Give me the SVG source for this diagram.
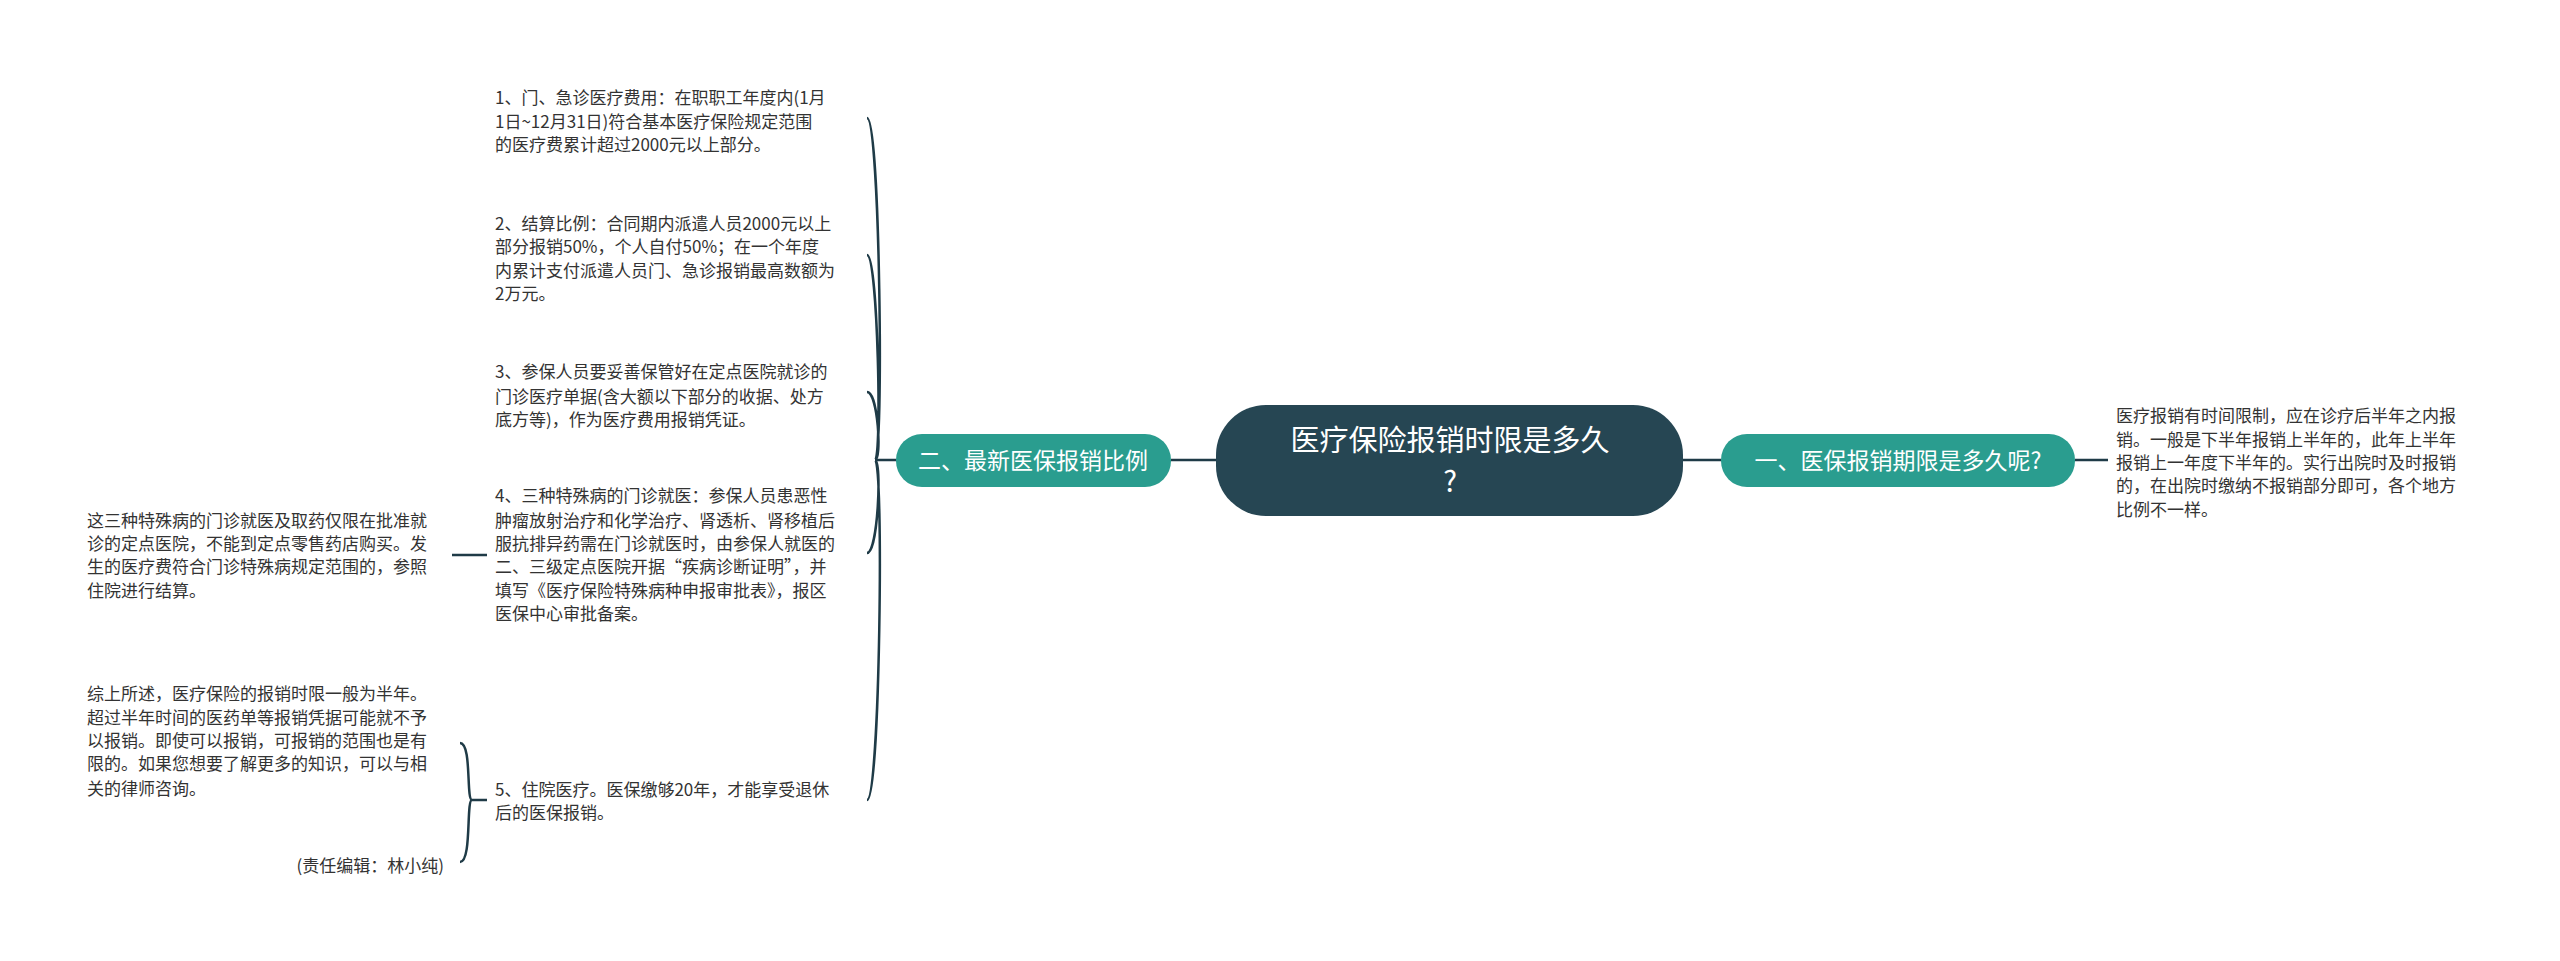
<svg xmlns="http://www.w3.org/2000/svg" width="2560" height="961" viewBox="0 0 2560 961">
<style>
.t{font-family:"Noto Sans CJK SC","Noto Sans",sans-serif;font-size:17px;fill:#333}
.w{font-family:"Noto Sans CJK SC","Noto Sans",sans-serif;fill:#fff;text-anchor:middle}
.c{fill:none;stroke:#1f3b47;stroke-width:2.5}
</style>
<rect width="2560" height="961" fill="#fff"/>
<g id="connectors">
<path class="c" d="M1171 460H1216M1683 460H1721M2075 460H2108M896 460H875"/>
<path class="c" d="M875 460C884 460 880 118 867 118M875 460C882 460 878 255 867 255M875 460C882 460 878 392 867 392M875 460C882 460 878 553 867 553M875 460C884 460 880 800 867 800"/>
<path class="c" d="M487 555H452"/>
<path class="c" d="M487 800H472M472 800C466 800 472 743 460 743M472 800C466 800 472 862 460 862"/>
</g>
<g id="center"><rect x="1216" y="405" width="467" height="111" rx="50" fill="#264653"/>
<text class="w" x="1450" y="451" font-size="29">医疗保险报销时限是多久</text><text class="w" x="1450" y="492" font-size="29">?</text></g>
<g id="b2"><rect x="896" y="434" width="275" height="53" rx="26" fill="#2a9d8f"/><text class="w" x="1033" y="469" font-size="23">二、最新医保报销比例</text></g>
<g id="b1"><rect x="1721" y="434" width="354" height="53" rx="26" fill="#2a9d8f"/><text class="w" x="1898" y="469" font-size="23">一、医保报销期限是多久呢?</text></g>
<g id="r1"><text class="t" x="2116"><tspan x="2116" y="422">医疗报销有时间限制，应在诊疗后半年之内报</tspan><tspan x="2116" y="446">销。一般是下半年报销上半年的，此年上半年</tspan><tspan x="2116" y="469">报销上一年度下半年的。实行出院时及时报销</tspan><tspan x="2116" y="492">的，在出院时缴纳不报销部分即可，各个地方</tspan><tspan x="2116" y="516">比例不一样。</tspan></text></g>
<g id="i1"><text class="t"><tspan x="495" y="104">1、门、急诊医疗费用：在职职工年度内(1月</tspan><tspan x="495" y="128">1日~12月31日)符合基本医疗保险规定范围</tspan><tspan x="495" y="151">的医疗费累计超过2000元以上部分。</tspan></text></g>
<g id="i2"><text class="t"><tspan x="495" y="230">2、结算比例：合同期内派遣人员2000元以上</tspan><tspan x="495" y="253">部分报销50%，个人自付50%；在一个年度</tspan><tspan x="495" y="277">内累计支付派遣人员门、急诊报销最高数额为</tspan><tspan x="495" y="300">2万元。</tspan></text></g>
<g id="i3"><text class="t"><tspan x="495" y="378">3、参保人员要妥善保管好在定点医院就诊的</tspan><tspan x="495" y="403">门诊医疗单据(含大额以下部分的收据、处方</tspan><tspan x="495" y="426">底方等)，作为医疗费用报销凭证。</tspan></text></g>
<g id="i4"><text class="t"><tspan x="495" y="502">4、三种特殊病的门诊就医：参保人员患恶性</tspan><tspan x="495" y="527">肿瘤放射治疗和化学治疗、肾透析、肾移植后</tspan><tspan x="495" y="550">服抗排异药需在门诊就医时，由参保人就医的</tspan><tspan x="495" y="573">二、三级定点医院开据“疾病诊断证明”，并</tspan><tspan x="495" y="597">填写《医疗保险特殊病种申报审批表》，报区</tspan><tspan x="495" y="620">医保中心审批备案。</tspan></text></g>
<g id="i4a"><text class="t"><tspan x="87" y="527">这三种特殊病的门诊就医及取药仅限在批准就</tspan><tspan x="87" y="550">诊的定点医院，不能到定点零售药店购买。发</tspan><tspan x="87" y="573">生的医疗费符合门诊特殊病规定范围的，参照</tspan><tspan x="87" y="597">住院进行结算。</tspan></text></g>
<g id="i5"><text class="t"><tspan x="495" y="796">5、住院医疗。医保缴够20年，才能享受退休</tspan><tspan x="495" y="819">后的医保报销。</tspan></text></g>
<g id="i5a"><text class="t"><tspan x="87" y="700">综上所述，医疗保险的报销时限一般为半年。</tspan><tspan x="87" y="724">超过半年时间的医药单等报销凭据可能就不予</tspan><tspan x="87" y="747">以报销。即使可以报销，可报销的范围也是有</tspan><tspan x="87" y="770">限的。如果您想要了解更多的知识，可以与相</tspan><tspan x="87" y="795">关的律师咨询。</tspan></text></g>
<g id="i5b"><text class="t" x="444" y="872" text-anchor="end">(责任编辑：林小纯)</text></g>
</svg>
